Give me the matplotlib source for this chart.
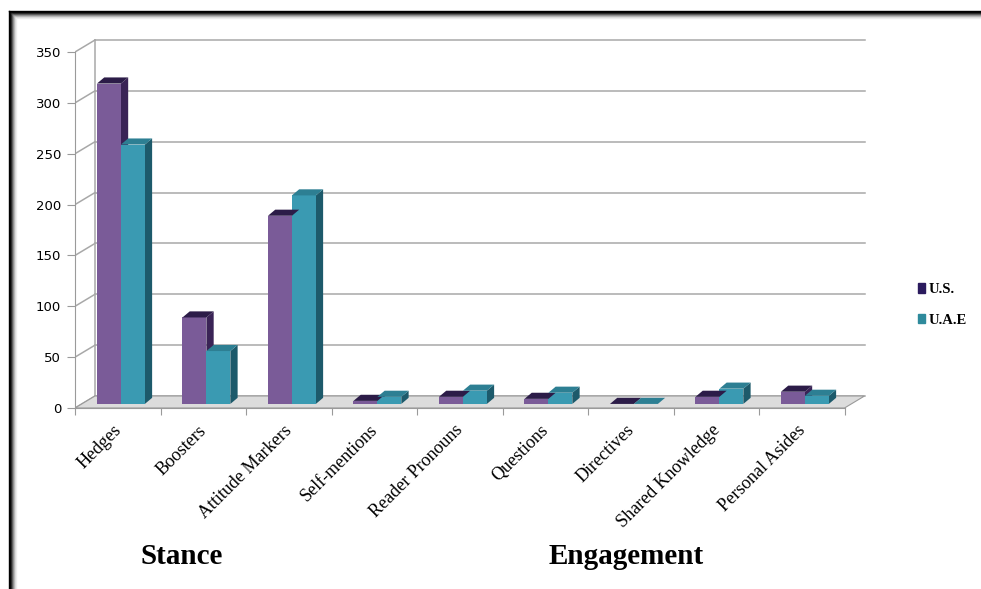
import matplotlib.pyplot as plt
from matplotlib.patches import Patch, Polygon
from matplotlib.lines import Line2D

categories = ['Hedges', 'Boosters', 'Attitude Markers', 'Self-mentions', 'Reader Pronouns',
              'Questions', 'Directives', 'Shared Knowledge', 'Personal Asides']
us_values = [315, 85, 185, 3, 7, 5, 0, 7, 12]
uae_values = [255, 52, 205, 7, 13, 11, 0, 15, 8]
y_ticks = [0, 50, 100, 150, 200, 250, 300, 350]

W, H = 981, 589
fig = plt.figure(figsize=(W / 100, H / 100), dpi=100)

# pixel geometry of the plot box (front value axis at x=75, value 0 at y=408)
px_cat = 85.5
px_val = 356 / 350
xmax, ymax = 9.3, 365
ax = fig.add_axes([75 / W, (H - 408) / H, xmax * px_cat / W, ymax * px_val / H])
ax.set_xlim(0, xmax)
ax.set_ylim(0, ymax)

# depth of the fake 3D box
dx = 20 / px_cat
dy = 12 / px_val
grid_col = '#a8a8a8'

# floor
ax.add_patch(Polygon([(0, 0), (9, 0), (9 + dx, dy), (dx, dy)], closed=True,
                     facecolor='#dcdcdc', edgecolor='#9a9a9a', lw=0.8, zorder=1))
# back wall grid lines and diagonal connectors
for v in y_ticks:
    ax.plot([dx, 9 + dx], [v + dy, v + dy], color=grid_col, lw=1.1, zorder=0.5)
    ax.plot([0, dx], [v, v + dy], color=grid_col, lw=1.1, zorder=0.5)
ax.plot([dx, dx], [dy, 350 + dy], color=grid_col, lw=1.1, zorder=0.5)

# bars with side and top faces
us_front, us_side, us_top = '#7a5b98', '#3a2356', '#2c1c48'
uae_front, uae_side, uae_top = '#3a9ab2', '#1d5a6b', '#2d7f93'
w = 0.28
bdx, bdy = 0.085, 6
base = 4
xs = range(len(categories))
for vals, off, fc, sc, tc in [(us_values, 0.257, us_front, us_side, us_top),
                              (uae_values, 0.257 + w, uae_front, uae_side, uae_top)]:
    lefts = [i + off for i in xs]
    ax.bar(lefts, vals, width=w, bottom=base, align='edge', color=fc, zorder=3)
    for x0, v in zip(lefts, vals):
        x1 = x0 + w
        top = base + v
        ax.add_patch(Polygon([(x1, base), (x1 + bdx, base + bdy), (x1 + bdx, top + bdy), (x1, top)],
                             closed=True, facecolor=sc, edgecolor='none', zorder=2.9))
        ax.add_patch(Polygon([(x0, top), (x0 + bdx, top + bdy), (x1 + bdx, top + bdy), (x1, top)],
                             closed=True, facecolor=tc, edgecolor='none', zorder=3.1))

# axes
for s in ['top', 'right']:
    ax.spines[s].set_visible(False)
ax.spines['left'].set_bounds(0, 350)
ax.spines['bottom'].set_bounds(0, 9)
ax.spines['left'].set_color('#9a9a9a')
ax.spines['bottom'].set_color('#9a9a9a')
ax.set_yticks(y_ticks)
ax.set_yticklabels([str(v) for v in y_ticks], fontsize=9.5, fontfamily='DejaVu Sans')
ax.tick_params(axis='y', length=6, color='#9a9a9a', pad=4)
ax.set_xticks(range(10))
ax.set_xticklabels([])
ax.tick_params(axis='x', which='major', length=5, color='#9a9a9a')
ax.set_xticks([i + 0.44 for i in xs], minor=True)
ax.set_xticklabels(categories, minor=True, rotation=45, ha='right', rotation_mode='anchor',
                   fontsize=13, fontfamily='Liberation Serif')
ax.tick_params(axis='x', which='minor', length=0, pad=10)

# legend
handles = [Patch(color='#2b1b5e', label='U.S.'), Patch(color='#2e8a9c', label='U.A.E')]
fig.legend(handles=handles, loc='center left', bbox_to_anchor=(905 / W, 1 - 305 / H),
           frameon=False, handlelength=0.5, handleheight=0.6, handletextpad=0.2,
           labelspacing=1.2, prop={'family': 'Liberation Serif', 'weight': 'bold', 'size': 10.5})

# group labels
fig.text(182 / W, 1 - 556 / H, 'Stance', ha='center', va='center',
         fontsize=21, fontweight='bold', fontfamily='Liberation Serif')
fig.text(626 / W, 1 - 556 / H, 'Engagement', ha='center', va='center',
         fontsize=21, fontweight='bold', fontfamily='Liberation Serif')

# picture frame
for i, g in enumerate(['#000000', '#000000', '#222222', '#555555', '#888888', '#b0b0b0', '#d6d6d6', '#ececec']):
    yy = 1 - (11 + i) / H
    xx = (9 + i) / W
    fig.add_artist(Line2D([xx, 1], [yy, yy], color=g, lw=1.0, transform=fig.transFigure))
    fig.add_artist(Line2D([xx, xx], [0, yy], color=g, lw=1.0, transform=fig.transFigure))

fig.savefig('out.png', dpi=100)
